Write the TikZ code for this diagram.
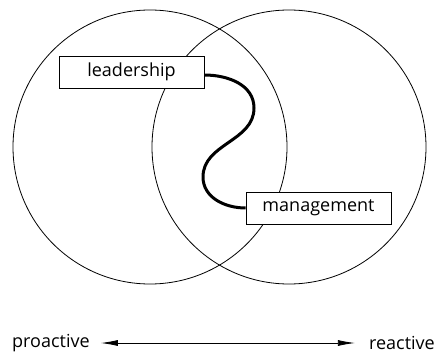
\documentclass[tikz,border=0pt]{standalone}
\usepackage{fontspec}
\setmainfont{Open Sans}
\usetikzlibrary{arrows.meta}
\begin{document}
\begin{tikzpicture}[x=1pt,y=1pt,font=\fontsize{18}{21}\selectfont,
box/.style={draw,line width=.8pt,minimum width=145pt,minimum height=32pt,inner sep=0pt},
tag/.style={inner sep=0pt}]
\useasboundingbox(0,0)rectangle(439,354);
\draw[line width=.8pt](150,207)circle(137);
\draw[line width=.8pt](289,207)circle(137);
\node[box,fill=white](lead)at(131.5,282){leadership};
\node[box,fill=white](mgmt)at(318.5,146){management};
\draw[line width=3pt](lead.east)++(0,-3)to[out=0,in=90](254,246)to[out=-90,in=90](203,177)to[out=-90,in=180](mgmt.west);
\node[tag,anchor=west](pro)at(12,11){proactive};
\node[tag,anchor=east](rea)at(435,11){reactive};
\draw[{Latex[length=17pt,width=6pt]}-{Latex[length=17pt,width=6pt]},line width=.8pt,shorten <=11pt,shorten >=14pt](pro)--(rea);
\end{tikzpicture}
\end{document}
